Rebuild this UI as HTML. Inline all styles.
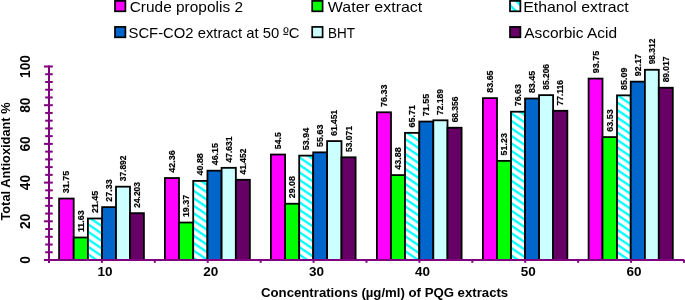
<!DOCTYPE html><html><head><meta charset="utf-8"><style>html,body{margin:0;padding:0;background:#fff;}svg{display:block;will-change:transform;}text{font-family:"Liberation Sans",sans-serif;}</style></head><body>
<svg width="685" height="300" viewBox="0 0 685 300">
<defs><pattern id="hatch" patternUnits="userSpaceOnUse" width="6.2" height="6.2" patternTransform="rotate(-56)"><rect width="6.2" height="6.2" fill="#fff"/><rect x="0" y="0" width="0.85" height="6.2" fill="#00FFFF"/><rect x="4.75" y="0" width="1.45" height="6.2" fill="#00FFFF"/></pattern><pattern id="hatch2" patternUnits="userSpaceOnUse" width="7.64" height="7.64" patternTransform="rotate(-45)"><rect width="7.64" height="7.64" fill="#fff"/><rect x="4.16" y="0" width="2.6" height="7.64" fill="#00FFFF"/></pattern></defs>
<rect x="59.10" y="198.56" width="14.60" height="61.44" fill="#FF00FF" stroke="#000" stroke-width="1.8"/>
<rect x="73.70" y="237.50" width="14.20" height="22.50" fill="#00FF00" stroke="#000" stroke-width="1.8"/>
<rect x="87.90" y="218.49" width="14.20" height="41.51" fill="url(#hatch)" stroke="#000" stroke-width="1.8"/>
<rect x="102.10" y="207.12" width="13.90" height="52.88" fill="#0066CC" stroke="#000" stroke-width="1.8"/>
<rect x="116.00" y="186.68" width="14.00" height="73.32" fill="#CCFFFF" stroke="#000" stroke-width="1.8"/>
<rect x="130.00" y="213.17" width="13.90" height="46.83" fill="#660066" stroke="#000" stroke-width="1.8"/>
<rect x="164.90" y="178.03" width="14.10" height="81.97" fill="#FF00FF" stroke="#000" stroke-width="1.8"/>
<rect x="179.00" y="222.52" width="14.20" height="37.48" fill="#00FF00" stroke="#000" stroke-width="1.8"/>
<rect x="193.20" y="180.90" width="14.25" height="79.10" fill="url(#hatch)" stroke="#000" stroke-width="1.8"/>
<rect x="207.45" y="170.70" width="14.15" height="89.30" fill="#0066CC" stroke="#000" stroke-width="1.8"/>
<rect x="221.60" y="167.83" width="14.25" height="92.17" fill="#CCFFFF" stroke="#000" stroke-width="1.8"/>
<rect x="235.85" y="179.79" width="14.00" height="80.21" fill="#660066" stroke="#000" stroke-width="1.8"/>
<rect x="270.90" y="154.54" width="14.20" height="105.46" fill="#FF00FF" stroke="#000" stroke-width="1.8"/>
<rect x="285.10" y="203.73" width="14.10" height="56.27" fill="#00FF00" stroke="#000" stroke-width="1.8"/>
<rect x="299.20" y="155.63" width="14.00" height="104.37" fill="url(#hatch)" stroke="#000" stroke-width="1.8"/>
<rect x="313.20" y="152.36" width="13.90" height="107.64" fill="#0066CC" stroke="#000" stroke-width="1.8"/>
<rect x="327.10" y="141.09" width="14.40" height="118.91" fill="#CCFFFF" stroke="#000" stroke-width="1.8"/>
<rect x="341.50" y="157.31" width="14.10" height="102.69" fill="#660066" stroke="#000" stroke-width="1.8"/>
<rect x="376.90" y="112.30" width="14.10" height="147.70" fill="#FF00FF" stroke="#000" stroke-width="1.8"/>
<rect x="391.00" y="175.09" width="14.00" height="84.91" fill="#00FF00" stroke="#000" stroke-width="1.8"/>
<rect x="405.00" y="132.85" width="14.30" height="127.15" fill="url(#hatch)" stroke="#000" stroke-width="1.8"/>
<rect x="419.30" y="121.55" width="14.00" height="138.45" fill="#0066CC" stroke="#000" stroke-width="1.8"/>
<rect x="433.30" y="120.31" width="14.20" height="139.69" fill="#CCFFFF" stroke="#000" stroke-width="1.8"/>
<rect x="447.50" y="127.73" width="14.10" height="132.27" fill="#660066" stroke="#000" stroke-width="1.8"/>
<rect x="482.90" y="98.14" width="14.10" height="161.86" fill="#FF00FF" stroke="#000" stroke-width="1.8"/>
<rect x="497.00" y="160.87" width="14.00" height="99.13" fill="#00FF00" stroke="#000" stroke-width="1.8"/>
<rect x="511.00" y="111.72" width="14.05" height="148.28" fill="url(#hatch)" stroke="#000" stroke-width="1.8"/>
<rect x="525.05" y="98.52" width="14.00" height="161.48" fill="#0066CC" stroke="#000" stroke-width="1.8"/>
<rect x="539.05" y="95.13" width="14.05" height="164.87" fill="#CCFFFF" stroke="#000" stroke-width="1.8"/>
<rect x="553.10" y="110.78" width="14.25" height="149.22" fill="#660066" stroke="#000" stroke-width="1.8"/>
<rect x="588.60" y="78.59" width="13.90" height="181.41" fill="#FF00FF" stroke="#000" stroke-width="1.8"/>
<rect x="602.50" y="137.07" width="14.50" height="122.93" fill="#00FF00" stroke="#000" stroke-width="1.8"/>
<rect x="617.00" y="95.35" width="13.75" height="164.65" fill="url(#hatch)" stroke="#000" stroke-width="1.8"/>
<rect x="630.75" y="81.65" width="14.15" height="178.35" fill="#0066CC" stroke="#000" stroke-width="1.8"/>
<rect x="644.90" y="69.77" width="13.90" height="190.23" fill="#CCFFFF" stroke="#000" stroke-width="1.8"/>
<rect x="658.80" y="87.75" width="14.00" height="172.25" fill="#660066" stroke="#000" stroke-width="1.8"/>
<text transform="translate(69.40,193.16) rotate(-90)" font-size="8.5" font-weight="bold" fill="#000" stroke="#000" stroke-width="0.18" textLength="22.33" lengthAdjust="spacingAndGlyphs">31.75</text>
<text transform="translate(83.80,232.10) rotate(-90)" font-size="8.5" font-weight="bold" fill="#000" stroke="#000" stroke-width="0.18" textLength="21.84" lengthAdjust="spacingAndGlyphs">11.63</text>
<text transform="translate(98.00,213.09) rotate(-90)" font-size="8.5" font-weight="bold" fill="#000" stroke="#000" stroke-width="0.18" textLength="22.33" lengthAdjust="spacingAndGlyphs">21.45</text>
<text transform="translate(112.05,201.72) rotate(-90)" font-size="8.5" font-weight="bold" fill="#000" stroke="#000" stroke-width="0.18" textLength="22.33" lengthAdjust="spacingAndGlyphs">27.33</text>
<text transform="translate(126.00,181.28) rotate(-90)" font-size="8.5" font-weight="bold" fill="#000" stroke="#000" stroke-width="0.18" textLength="25.74" lengthAdjust="spacingAndGlyphs">37.892</text>
<text transform="translate(139.95,207.77) rotate(-90)" font-size="8.5" font-weight="bold" fill="#000" stroke="#000" stroke-width="0.18" textLength="25.74" lengthAdjust="spacingAndGlyphs">24.203</text>
<text transform="translate(174.95,172.63) rotate(-90)" font-size="8.5" font-weight="bold" fill="#000" stroke="#000" stroke-width="0.18" textLength="22.33" lengthAdjust="spacingAndGlyphs">42.36</text>
<text transform="translate(189.10,217.12) rotate(-90)" font-size="8.5" font-weight="bold" fill="#000" stroke="#000" stroke-width="0.18" textLength="22.33" lengthAdjust="spacingAndGlyphs">19.37</text>
<text transform="translate(203.32,175.50) rotate(-90)" font-size="8.5" font-weight="bold" fill="#000" stroke="#000" stroke-width="0.18" textLength="22.33" lengthAdjust="spacingAndGlyphs">40.88</text>
<text transform="translate(217.52,165.30) rotate(-90)" font-size="8.5" font-weight="bold" fill="#000" stroke="#000" stroke-width="0.18" textLength="22.33" lengthAdjust="spacingAndGlyphs">46.15</text>
<text transform="translate(231.72,162.43) rotate(-90)" font-size="8.5" font-weight="bold" fill="#000" stroke="#000" stroke-width="0.18" textLength="25.74" lengthAdjust="spacingAndGlyphs">47.631</text>
<text transform="translate(245.85,174.39) rotate(-90)" font-size="8.5" font-weight="bold" fill="#000" stroke="#000" stroke-width="0.18" textLength="25.74" lengthAdjust="spacingAndGlyphs">41.452</text>
<text transform="translate(281.00,149.14) rotate(-90)" font-size="8.5" font-weight="bold" fill="#000" stroke="#000" stroke-width="0.18" textLength="16.87" lengthAdjust="spacingAndGlyphs">54.5</text>
<text transform="translate(295.15,198.33) rotate(-90)" font-size="8.5" font-weight="bold" fill="#000" stroke="#000" stroke-width="0.18" textLength="22.33" lengthAdjust="spacingAndGlyphs">29.08</text>
<text transform="translate(309.20,150.23) rotate(-90)" font-size="8.5" font-weight="bold" fill="#000" stroke="#000" stroke-width="0.18" textLength="22.33" lengthAdjust="spacingAndGlyphs">53.94</text>
<text transform="translate(323.15,146.96) rotate(-90)" font-size="8.5" font-weight="bold" fill="#000" stroke="#000" stroke-width="0.18" textLength="22.33" lengthAdjust="spacingAndGlyphs">55.63</text>
<text transform="translate(337.30,135.69) rotate(-90)" font-size="8.5" font-weight="bold" fill="#000" stroke="#000" stroke-width="0.18" textLength="25.74" lengthAdjust="spacingAndGlyphs">61.451</text>
<text transform="translate(351.55,151.91) rotate(-90)" font-size="8.5" font-weight="bold" fill="#000" stroke="#000" stroke-width="0.18" textLength="25.74" lengthAdjust="spacingAndGlyphs">53.071</text>
<text transform="translate(386.95,106.90) rotate(-90)" font-size="8.5" font-weight="bold" fill="#000" stroke="#000" stroke-width="0.18" textLength="22.33" lengthAdjust="spacingAndGlyphs">76.33</text>
<text transform="translate(401.00,169.69) rotate(-90)" font-size="8.5" font-weight="bold" fill="#000" stroke="#000" stroke-width="0.18" textLength="22.33" lengthAdjust="spacingAndGlyphs">43.88</text>
<text transform="translate(415.15,127.45) rotate(-90)" font-size="8.5" font-weight="bold" fill="#000" stroke="#000" stroke-width="0.18" textLength="22.33" lengthAdjust="spacingAndGlyphs">65.71</text>
<text transform="translate(429.30,116.15) rotate(-90)" font-size="8.5" font-weight="bold" fill="#000" stroke="#000" stroke-width="0.18" textLength="22.33" lengthAdjust="spacingAndGlyphs">71.55</text>
<text transform="translate(443.40,114.91) rotate(-90)" font-size="8.5" font-weight="bold" fill="#000" stroke="#000" stroke-width="0.18" textLength="25.74" lengthAdjust="spacingAndGlyphs">72.189</text>
<text transform="translate(457.55,122.33) rotate(-90)" font-size="8.5" font-weight="bold" fill="#000" stroke="#000" stroke-width="0.18" textLength="25.74" lengthAdjust="spacingAndGlyphs">68.356</text>
<text transform="translate(492.95,92.74) rotate(-90)" font-size="8.5" font-weight="bold" fill="#000" stroke="#000" stroke-width="0.18" textLength="22.33" lengthAdjust="spacingAndGlyphs">83.65</text>
<text transform="translate(507.00,155.47) rotate(-90)" font-size="8.5" font-weight="bold" fill="#000" stroke="#000" stroke-width="0.18" textLength="22.33" lengthAdjust="spacingAndGlyphs">51.23</text>
<text transform="translate(521.02,106.32) rotate(-90)" font-size="8.5" font-weight="bold" fill="#000" stroke="#000" stroke-width="0.18" textLength="22.33" lengthAdjust="spacingAndGlyphs">76.63</text>
<text transform="translate(535.05,93.12) rotate(-90)" font-size="8.5" font-weight="bold" fill="#000" stroke="#000" stroke-width="0.18" textLength="22.33" lengthAdjust="spacingAndGlyphs">83.45</text>
<text transform="translate(549.08,89.73) rotate(-90)" font-size="8.5" font-weight="bold" fill="#000" stroke="#000" stroke-width="0.18" textLength="25.74" lengthAdjust="spacingAndGlyphs">85.206</text>
<text transform="translate(563.23,105.38) rotate(-90)" font-size="8.5" font-weight="bold" fill="#000" stroke="#000" stroke-width="0.18" textLength="25.27" lengthAdjust="spacingAndGlyphs">77.116</text>
<text transform="translate(598.55,73.19) rotate(-90)" font-size="8.5" font-weight="bold" fill="#000" stroke="#000" stroke-width="0.18" textLength="22.33" lengthAdjust="spacingAndGlyphs">93.75</text>
<text transform="translate(612.75,131.67) rotate(-90)" font-size="8.5" font-weight="bold" fill="#000" stroke="#000" stroke-width="0.18" textLength="22.33" lengthAdjust="spacingAndGlyphs">63.53</text>
<text transform="translate(626.88,89.95) rotate(-90)" font-size="8.5" font-weight="bold" fill="#000" stroke="#000" stroke-width="0.18" textLength="22.33" lengthAdjust="spacingAndGlyphs">85.09</text>
<text transform="translate(640.83,76.25) rotate(-90)" font-size="8.5" font-weight="bold" fill="#000" stroke="#000" stroke-width="0.18" textLength="22.33" lengthAdjust="spacingAndGlyphs">92.17</text>
<text transform="translate(654.85,64.37) rotate(-90)" font-size="8.5" font-weight="bold" fill="#000" stroke="#000" stroke-width="0.18" textLength="25.74" lengthAdjust="spacingAndGlyphs">98.312</text>
<text transform="translate(668.80,82.35) rotate(-90)" font-size="8.5" font-weight="bold" fill="#000" stroke="#000" stroke-width="0.18" textLength="25.74" lengthAdjust="spacingAndGlyphs">89.017</text>
<rect x="48" y="65.5" width="2" height="197.5" fill="#800080"/>
<rect x="48" y="259" width="636.5" height="2" fill="#800080"/>
<rect x="44" y="259.00" width="8.8" height="2" fill="#800080"/>
<rect x="45.2" y="251.26" width="7.5" height="2" fill="#800080"/>
<rect x="45.2" y="243.52" width="7.5" height="2" fill="#800080"/>
<rect x="45.2" y="235.78" width="7.5" height="2" fill="#800080"/>
<rect x="45.2" y="228.04" width="7.5" height="2" fill="#800080"/>
<rect x="44" y="220.30" width="8.8" height="2" fill="#800080"/>
<rect x="45.2" y="212.56" width="7.5" height="2" fill="#800080"/>
<rect x="45.2" y="204.82" width="7.5" height="2" fill="#800080"/>
<rect x="45.2" y="197.08" width="7.5" height="2" fill="#800080"/>
<rect x="45.2" y="189.34" width="7.5" height="2" fill="#800080"/>
<rect x="44" y="181.60" width="8.8" height="2" fill="#800080"/>
<rect x="45.2" y="173.86" width="7.5" height="2" fill="#800080"/>
<rect x="45.2" y="166.12" width="7.5" height="2" fill="#800080"/>
<rect x="45.2" y="158.38" width="7.5" height="2" fill="#800080"/>
<rect x="45.2" y="150.64" width="7.5" height="2" fill="#800080"/>
<rect x="44" y="142.90" width="8.8" height="2" fill="#800080"/>
<rect x="45.2" y="135.16" width="7.5" height="2" fill="#800080"/>
<rect x="45.2" y="127.42" width="7.5" height="2" fill="#800080"/>
<rect x="45.2" y="119.68" width="7.5" height="2" fill="#800080"/>
<rect x="45.2" y="111.94" width="7.5" height="2" fill="#800080"/>
<rect x="44" y="104.20" width="8.8" height="2" fill="#800080"/>
<rect x="45.2" y="96.46" width="7.5" height="2" fill="#800080"/>
<rect x="45.2" y="88.72" width="7.5" height="2" fill="#800080"/>
<rect x="45.2" y="80.98" width="7.5" height="2" fill="#800080"/>
<rect x="45.2" y="73.24" width="7.5" height="2" fill="#800080"/>
<rect x="44" y="65.50" width="8.8" height="2" fill="#800080"/>
<rect x="48.00" y="260" width="2" height="2.8" fill="#800080"/>
<rect x="100.91" y="260" width="2" height="2.8" fill="#800080"/>
<rect x="153.83" y="260" width="2" height="2.8" fill="#800080"/>
<rect x="206.75" y="260" width="2" height="2.8" fill="#800080"/>
<rect x="259.66" y="260" width="2" height="2.8" fill="#800080"/>
<rect x="312.57" y="260" width="2" height="2.8" fill="#800080"/>
<rect x="365.49" y="260" width="2" height="2.8" fill="#800080"/>
<rect x="418.40" y="260" width="2" height="2.8" fill="#800080"/>
<rect x="471.32" y="260" width="2" height="2.8" fill="#800080"/>
<rect x="524.24" y="260" width="2" height="2.8" fill="#800080"/>
<rect x="577.15" y="260" width="2" height="2.8" fill="#800080"/>
<rect x="630.06" y="260" width="2" height="2.8" fill="#800080"/>
<rect x="682.98" y="260" width="2" height="2.8" fill="#800080"/>
<text transform="translate(30.0,260.00) rotate(-90)" font-size="13.8" font-weight="bold" text-anchor="middle" fill="#000">0</text>
<text transform="translate(30.0,221.30) rotate(-90)" font-size="13.8" font-weight="bold" text-anchor="middle" fill="#000">20</text>
<text transform="translate(30.0,182.60) rotate(-90)" font-size="13.8" font-weight="bold" text-anchor="middle" fill="#000">40</text>
<text transform="translate(30.0,143.90) rotate(-90)" font-size="13.8" font-weight="bold" text-anchor="middle" fill="#000">60</text>
<text transform="translate(30.0,105.20) rotate(-90)" font-size="13.8" font-weight="bold" text-anchor="middle" fill="#000">80</text>
<text transform="translate(30.0,66.50) rotate(-90)" font-size="13.8" font-weight="bold" text-anchor="middle" fill="#000">100</text>
<text x="104.91" y="275.9" font-size="13.5" font-weight="bold" text-anchor="middle" fill="#000">10</text>
<text x="210.75" y="275.9" font-size="13.5" font-weight="bold" text-anchor="middle" fill="#000">20</text>
<text x="316.57" y="275.9" font-size="13.5" font-weight="bold" text-anchor="middle" fill="#000">30</text>
<text x="422.40" y="275.9" font-size="13.5" font-weight="bold" text-anchor="middle" fill="#000">40</text>
<text x="528.24" y="275.9" font-size="13.5" font-weight="bold" text-anchor="middle" fill="#000">50</text>
<text x="634.06" y="275.9" font-size="13.5" font-weight="bold" text-anchor="middle" fill="#000">60</text>
<text x="261" y="296.9" font-size="13.2" font-weight="bold" fill="#000">Concentrations (µg/ml) of PQG extracts</text>
<text transform="translate(10.0,220.6) rotate(-90)" font-size="13.4" font-weight="bold" fill="#000" textLength="118.2" lengthAdjust="spacingAndGlyphs">Total Antioxidant %</text>
<rect x="115.00" y="0.90" width="10.4" height="10.4" fill="#FF00FF" stroke="#000" stroke-width="1.7"/>
<text x="129.70" y="11.80" font-size="14.6" fill="#000" textLength="113.3" lengthAdjust="spacingAndGlyphs">Crude propolis 2</text>
<rect x="312.20" y="0.90" width="10.4" height="10.4" fill="#00FF00" stroke="#000" stroke-width="1.7"/>
<text x="327.80" y="11.80" font-size="14.6" fill="#000" textLength="94.5" lengthAdjust="spacingAndGlyphs">Water extract</text>
<rect x="510.00" y="0.90" width="10.4" height="10.4" fill="url(#hatch2)" stroke="#000" stroke-width="1.7"/>
<text x="523.20" y="11.80" font-size="14.6" fill="#000" textLength="105.6" lengthAdjust="spacingAndGlyphs">Ethanol extract</text>
<rect x="115.00" y="26.90" width="10.4" height="10.4" fill="#0066CC" stroke="#000" stroke-width="1.7"/>
<text x="128.50" y="37.80" font-size="14.6" fill="#000" textLength="170.9" lengthAdjust="spacingAndGlyphs">SCF-CO2 extract at 50 ºC</text>
<rect x="312.20" y="26.90" width="10.4" height="10.4" fill="#CCFFFF" stroke="#000" stroke-width="1.7"/>
<text x="328.00" y="37.80" font-size="14.6" fill="#000" textLength="27" lengthAdjust="spacingAndGlyphs">BHT</text>
<rect x="510.00" y="26.90" width="10.4" height="10.4" fill="#660066" stroke="#000" stroke-width="1.7"/>
<text x="524.20" y="37.80" font-size="14.6" fill="#000" textLength="92.8" lengthAdjust="spacingAndGlyphs">Ascorbic Acid</text>
<rect x="283.3" y="33.8" width="4.8" height="1.1" fill="#000"/>
</svg></body></html>
